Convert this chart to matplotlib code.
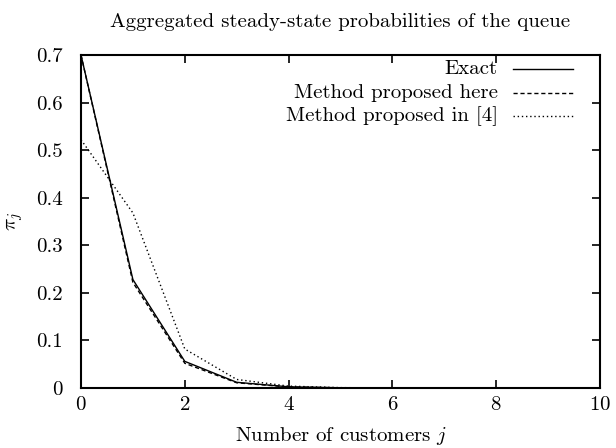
import numpy as np
import matplotlib
matplotlib.use('Agg')
import matplotlib.pyplot as plt
from matplotlib.lines import Line2D

# computer modern look, like the gnuplot/latex original
plt.rcParams['font.family'] = ['cmr10', 'DejaVu Serif']
plt.rcParams['mathtext.fontset'] = 'cm'
plt.rcParams['axes.formatter.use_mathtext'] = True

# ------------------ data ------------------
j = np.arange(0, 11)
exact = [0.700, 0.228, 0.056, 0.012, 0.0025, 0.0005, 0.0001, 0.0, 0.0, 0.0, 0.0]
proposed_here = [0.700, 0.222, 0.052, 0.011, 0.0022, 0.0004, 0.0001, 0.0, 0.0, 0.0, 0.0]
proposed_4 = [0.522, 0.368, 0.082, 0.018, 0.0040, 0.0008, 0.0002, 0.0, 0.0, 0.0, 0.0]

labels = ['Exact', 'Method proposed here', 'Method proposed in [4]']
styles = ['-', (0, (3, 2)), (0, (1, 2))]
# ---------------------------------------------------------------

FS = 15

fig = plt.figure(figsize=(6.16, 4.48), dpi=100)
ax = fig.add_axes([0.1315, 0.1339, 0.8425, 0.7433])

for y, ls in zip([exact, proposed_here, proposed_4], styles):
    ax.plot(j, y, color='black', linewidth=1.0, linestyle=ls)

ax.set_xlim(0, 10)
ax.set_ylim(0, 0.7)
ax.set_xticks(np.arange(0, 11, 2))
ax.set_yticks(np.arange(0, 0.71, 0.1))
ax.set_yticklabels(['0', '0.1', '0.2', '0.3', '0.4', '0.5', '0.6', '0.7'])

ax.tick_params(direction='in', top=True, right=True, length=6, width=1.2,
               labelsize=FS)
ax.tick_params(axis='y', pad=13)
ax.tick_params(axis='x', pad=6)
for s in ax.spines.values():
    s.set_linewidth(1.5)

ax.set_title('Aggregated steady-state probabilities of the queue', fontsize=FS, pad=20)
ax.set_xlabel('Number of customers $j$', fontsize=FS, labelpad=8)
ax.set_ylabel(r'$\pi_j$', fontsize=FS, labelpad=8)

# gnuplot style key: text right-aligned, sample line on the right
ys = [0.958, 0.887, 0.817]
for lab, ls, yy in zip(labels, styles, ys):
    ax.text(0.803, yy, lab, transform=ax.transAxes, ha='right', va='center',
            fontsize=FS)
    ax.add_line(Line2D([0.832, 0.948], [yy, yy], transform=ax.transAxes,
                       color='black', linewidth=1.0, linestyle=ls))

fig.savefig('out.png', dpi=100)
